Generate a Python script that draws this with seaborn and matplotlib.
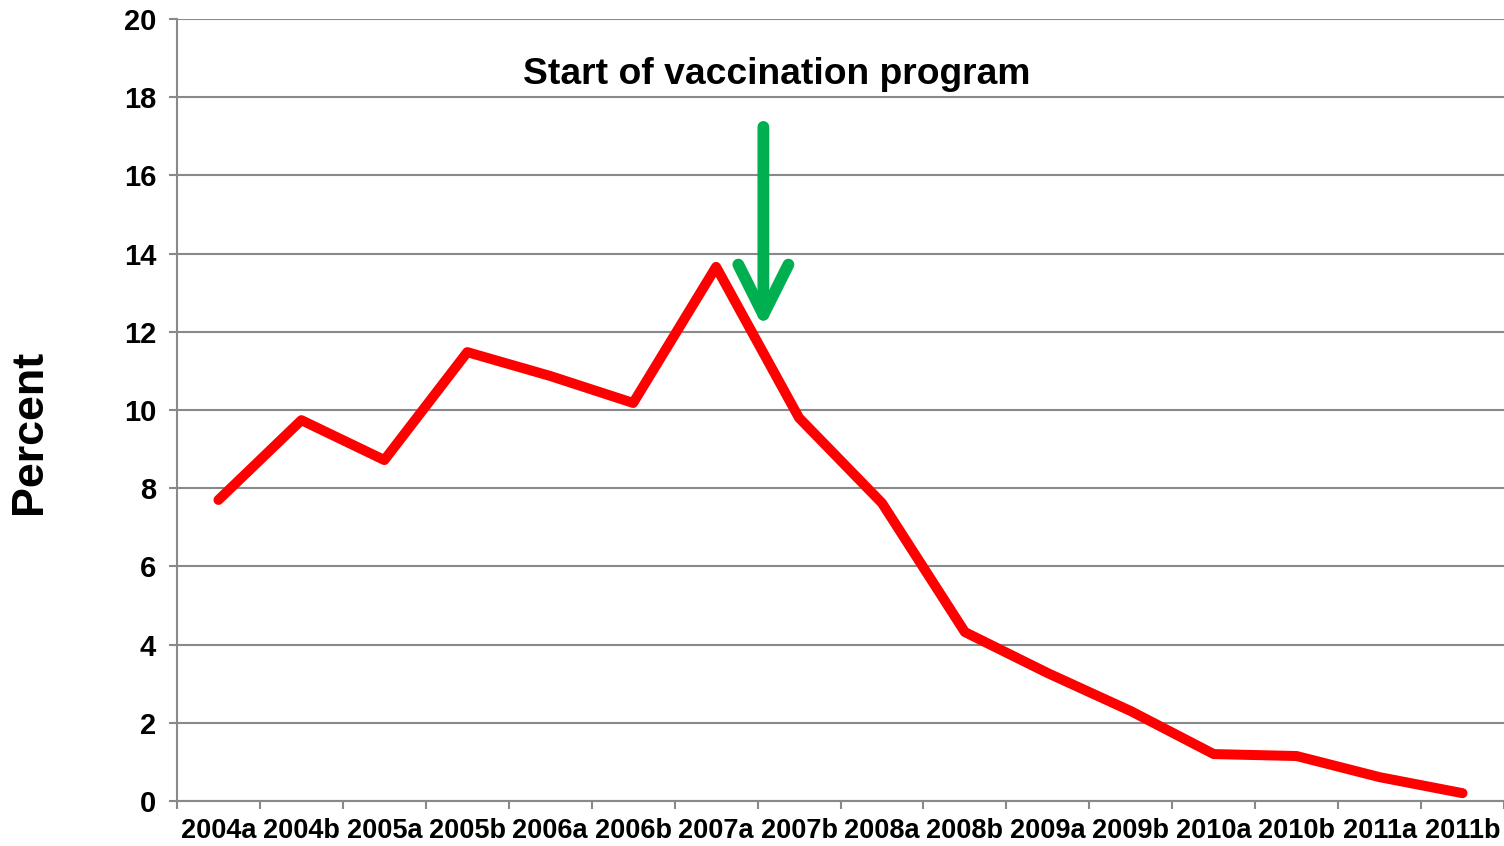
import matplotlib
matplotlib.use("Agg")
import matplotlib.pyplot as plt
import seaborn as sns
import pandas as pd

periods = ["2004a", "2004b", "2005a", "2005b", "2006a", "2006b", "2007a", "2007b",
           "2008a", "2008b", "2009a", "2009b", "2010a", "2010b", "2011a", "2011b"]
percent = [7.70, 9.74, 8.72, 11.48, 10.87, 10.18, 13.66, 9.80,
           7.62, 4.32, 3.27, 2.30, 1.20, 1.15, 0.61, 0.20]

annotation_text = "Start of vaccination program"

sns.set_style("white")
plt.rcParams["font.family"] = ["Liberation Sans", "DejaVu Sans"]
plt.rcParams["text.color"] = "black"
plt.rcParams["xtick.color"] = "black"
plt.rcParams["ytick.color"] = "black"

df = pd.DataFrame({"Period": periods, "Percent": percent})

fig = plt.figure(figsize=(15.04, 8.46), dpi=100)
ax = fig.add_axes([177 / 1504, 45 / 846, 1327 / 1504, 782 / 846])

grid_col = "#898989"

sns.lineplot(
    data=df,
    x="Period",
    y="Percent",
    color="#FF0000",
    linewidth=7.2,
    solid_capstyle="round",
    solid_joinstyle="round",
    ax=ax
)

ax.set_ylim(0, 20)
ax.set_xlim(-0.5, len(periods) - 0.5)
ax.set_yticks(range(0, 21, 2))
ax.yaxis.grid(True, color=grid_col, linewidth=1.5)
ax.set_axisbelow(True)

# category ticks between the labels, like the spreadsheet original
ax.set_xticks(range(len(periods)))
ax.set_xticklabels(periods, fontsize=19.5, fontweight="bold")
ax.set_xticks([i - 0.5 for i in range(len(periods) + 1)], minor=True)
ax.tick_params(axis="x", which="major", bottom=True, length=0, pad=12)
ax.tick_params(axis="x", which="minor", bottom=True, length=6, width=1.5,
               color=grid_col, direction="out")
ax.tick_params(axis="y", left=True, length=6, width=1.5, color=grid_col,
               labelcolor="black", labelsize=21, pad=9)
for lab in ax.get_yticklabels():
    lab.set_fontweight("bold")

for side in ["top", "right"]:
    ax.spines[side].set_visible(False)
for side in ["left", "bottom"]:
    ax.spines[side].set_color(grid_col)
    ax.spines[side].set_linewidth(1.5)

ax.set_xlabel("")
ax.set_ylabel("")
fig.text(30 / 1504, 1 - 432 / 846, "Percent", rotation=90, ha="center", va="center",
         fontsize=32.3, fontweight="bold")

ax.text(6.73, 18.58, annotation_text, ha="center", va="center",
        fontsize=26.8, fontweight="bold")

ax.annotate(
    "",
    xy=(6.57, 12.1),
    xytext=(6.57, 17.24),
    arrowprops=dict(
        arrowstyle="->,head_length=0.44,head_width=0.22",
        mutation_scale=82,
        lw=8.5,
        color="#00B050",
        shrinkA=0,
        shrinkB=0,
        capstyle="round",
    ),
)

plt.savefig("out.png", dpi=100)
plt.close()
